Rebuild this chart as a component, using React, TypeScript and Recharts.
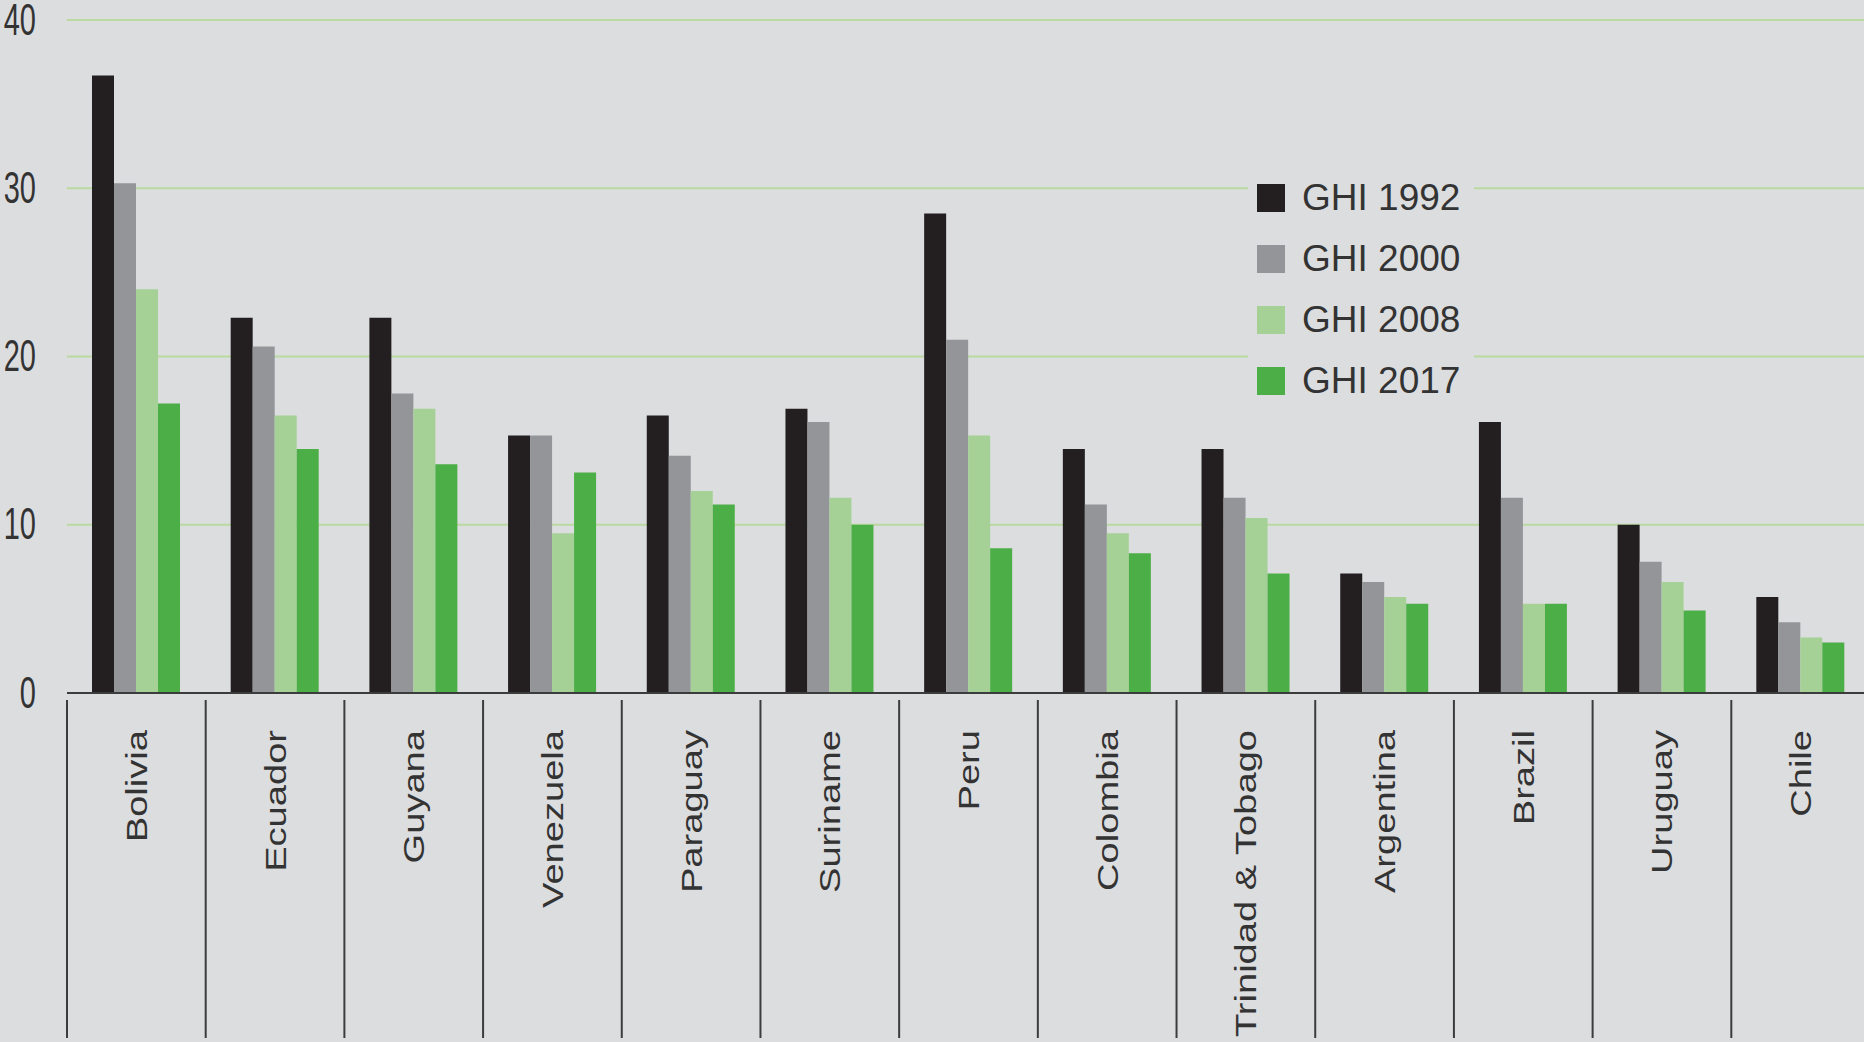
import { Bar, BarChart, CartesianGrid, Legend, XAxis, YAxis } from "recharts";

const countries = [
  "Bolivia", "Ecuador", "Guyana", "Venezuela", "Paraguay", "Suriname", "Peru",
  "Colombia", "Trinidad & Tobago", "Argentina", "Brazil", "Uruguay", "Chile",
];
const ghi1992 = [36.7, 22.3, 22.3, 15.3, 16.5, 16.9, 28.5, 14.5, 14.5, 7.1, 16.1, 10.0, 5.7];
const ghi2000 = [30.3, 20.6, 17.8, 15.3, 14.1, 16.1, 21.0, 11.2, 11.6, 6.6, 11.6, 7.8, 4.2];
const ghi2008 = [24.0, 16.5, 16.9, 9.5, 12.0, 11.6, 15.3, 9.5, 10.4, 5.7, 5.3, 6.6, 3.3];
const ghi2017 = [17.2, 14.5, 13.6, 13.1, 11.2, 10.0, 8.6, 8.3, 7.1, 5.3, 5.3, 4.9, 3.0];
const yTicks = [0, 10, 20, 30, 40];

const series = [
  { key: "g1992", name: "GHI 1992", color: "#231f20" },
  { key: "g2000", name: "GHI 2000", color: "#939598" },
  { key: "g2008", name: "GHI 2008", color: "#a6d196" },
  { key: "g2017", name: "GHI 2017", color: "#4cae46" },
];

const data = countries.map((country, i) => ({
  country,
  g1992: ghi1992[i],
  g2000: ghi2000[i],
  g2008: ghi2008[i],
  g2017: ghi2017[i],
}));

const W = 1864;
const H = 1042;
const Y_AXIS_W = 67;
const X_AXIS_H = 349;
const RIGHT = -6;
const BAND = (W - RIGHT - Y_AXIS_W) / countries.length;
const BG = "#dcdddf";
const TEXT = "#333333";
const AXIS = "#3c3c3c";
const FONT = "'Liberation Sans', Arial, sans-serif";

function CountryTick(props: any) {
  const { x, y, payload } = props;
  const left = x - BAND / 2;
  return (
    <g>
      <line x1={left} x2={left} y1={y - 1} y2={1038} stroke={AXIS} strokeWidth={2} />
      <text
        transform={`translate(${x}, 730) rotate(-90) scale(1.27, 1)`}
        textAnchor="end"
        dominantBaseline="central"
        fontSize={30}
        fontFamily={FONT}
        fill={TEXT}
      >
        {payload.value}
      </text>
    </g>
  );
}

function ValueTick(props: any) {
  const { y, payload } = props;
  return (
    <text
      transform={`translate(36, ${y}) scale(1, 1.5)`}
      textAnchor="end"
      dominantBaseline="central"
      fontSize={29}
      fontFamily={FONT}
      fill={TEXT}
    >
      {payload.value}
    </text>
  );
}

function LegendBox() {
  return (
    <div style={{ background: BG, width: 226, height: 240, paddingTop: 2, boxSizing: "border-box" }}>
      {series.map((s) => (
        <div key={s.key} style={{ display: "flex", alignItems: "center", height: 61 }}>
          <div style={{ width: 28, height: 28, background: s.color, marginLeft: 9, marginRight: 17 }} />
          <span style={{ fontFamily: FONT, fontSize: 37, color: TEXT, lineHeight: 1 }}>{s.name}</span>
        </div>
      ))}
    </div>
  );
}

export default function App() {
  return (
    <div style={{ position: "absolute", left: 0, top: 0, width: W, height: H, background: BG, overflow: "hidden" }}>
      <BarChart
        width={W}
        height={H}
        data={data}
        margin={{ top: 20, right: RIGHT, left: 0, bottom: 0 }}
        barCategoryGap={25}
        barGap={0}
      >
        <CartesianGrid vertical={false} stroke="#b9d9a1" strokeWidth={2} />
        <XAxis
          dataKey="country"
          interval={0}
          height={X_AXIS_H}
          tickLine={false}
          axisLine={{ stroke: AXIS, strokeWidth: 2 }}
          tick={<CountryTick />}
        />
        <YAxis
          width={Y_AXIS_W}
          domain={[0, 40]}
          ticks={yTicks}
          axisLine={false}
          tickLine={false}
          tick={<ValueTick />}
        />
        <Legend
          layout="vertical"
          align="center"
          verticalAlign="middle"
          wrapperStyle={{ top: 165, left: 1248, width: 226 }}
          content={<LegendBox />}
        />
        {series.map((s) => (
          <Bar key={s.key} dataKey={s.key} name={s.name} fill={s.color} isAnimationActive={false} />
        ))}
      </BarChart>
    </div>
  );
}
